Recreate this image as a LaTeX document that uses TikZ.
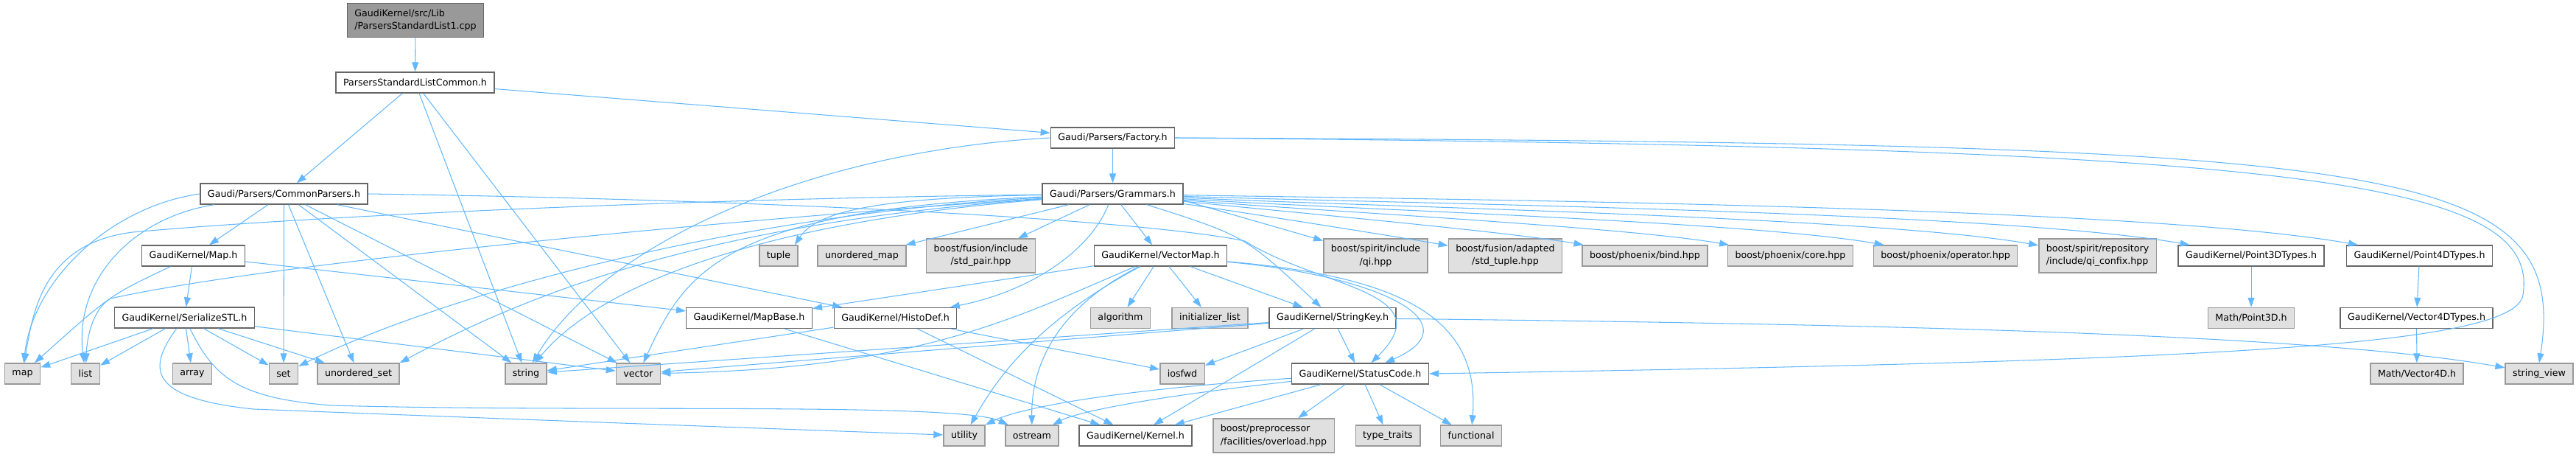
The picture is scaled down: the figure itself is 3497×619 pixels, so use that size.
\documentclass[tikz,border=0pt]{standalone}
\usepackage{fontspec}
\setmainfont{DejaVu Sans}
\usetikzlibrary{arrows.meta}

\definecolor{edgeblue}{HTML}{63B8FF}
\definecolor{hdrline}{HTML}{666666}
\definecolor{sysline}{HTML}{999999}
\definecolor{sysfill}{HTML}{E0E0E0}
\definecolor{srcfill}{HTML}{999999}

\begin{document}
\begin{tikzpicture}[x=0.02cm, y=-0.02cm,
    hdr/.style={rectangle, draw=hdrline, fill=white, line width=0.8pt, minimum height=0.56cm, inner xsep=0.2cm, inner ysep=0pt, font=\fontsize{7.2}{9.7}\selectfont},
    sys/.style={hdr, draw=sysline, fill=sysfill},
    srcfile/.style={hdr, fill=srcfill, align=left, minimum height=0.91cm},
    twoline/.style={minimum height=0.92cm},
    arrow/.style={draw=edgeblue, line width=0.6pt, -{Triangle[length=0.26cm, width=0.18cm]}}
]
    \useasboundingbox (0,0) rectangle (3497,619);

    % Place nodes
    \node [srcfile] (src) at (564,27.5) {GaudiKernel/src/Lib\\/ParsersStandardList1.cpp};
    \node [hdr] (pslc) at (563.5,112) {ParsersStandardListCommon.h};
    \node [hdr] (factory) at (1510.5,187) {Gaudi/Parsers/Factory.h};
    \node [hdr] (common) at (385.5,263) {Gaudi/Parsers/CommonParsers.h};
    \node [hdr] (grammars) at (1510.5,263) {Gaudi/Parsers/Grammars.h};

    \node [hdr] (mapH) at (262.5,347) {GaudiKernel/Map.h};
    \node [sys] (tuple) at (1057,347) {tuple};
    \node [sys] (umap) at (1170,347) {unordered\_map};
    \node [sys, twoline, align=center] (stdpair) at (1331.5,347) {boost/fusion/include\\/std\_pair.hpp};
    \node [hdr] (vmap) at (1575.5,347) {GaudiKernel/VectorMap.h};
    \node [sys, twoline, align=center] (qi) at (1867.5,347) {boost/spirit/include\\/qi.hpp};
    \node [sys, twoline, align=center] (stdtuple) at (2043.5,347) {boost/fusion/adapted\\/std\_tuple.hpp};
    \node [sys] (bind) at (2233,347) {boost/phoenix/bind.hpp};
    \node [sys] (core) at (2430.5,347) {boost/phoenix/core.hpp};
    \node [sys] (operator) at (2641,347) {boost/phoenix/operator.hpp};
    \node [sys, twoline, align=left] (confix) at (2847.5,347) {boost/spirit/repository\\/include/qi\_confix.hpp};
    \node [hdr] (p3d) at (3056,347) {GaudiKernel/Point3DTypes.h};
    \node [hdr] (p4d) at (3284.5,347) {GaudiKernel/Point4DTypes.h};

    \node [hdr] (serial) at (250.5,431) {GaudiKernel/SerializeSTL.h};
    \node [hdr] (mapbase) at (1017,431.5) {GaudiKernel/MapBase.h};
    \node [hdr] (histodef) at (1215.5,431.5) {GaudiKernel/HistoDef.h};
    \node [sys] (algorithm) at (1521,431.5) {algorithm};
    \node [sys] (initlist) at (1642.5,431.5) {initializer\_list};
    \node [hdr] (strkey) at (1809,431.5) {GaudiKernel/StringKey.h};
    \node [sys] (mpoint3d) at (3056,431.5) {Math/Point3D.h};
    \node [hdr] (v4d) at (3280.5,431.5) {GaudiKernel/Vector4DTypes.h};

    \node [sys] (stdmap) at (30.5,507) {map};
    \node [sys] (stdlist) at (116,507) {list};
    \node [sys] (stdarray) at (261,507) {array};
    \node [sys] (stdset) at (385,507) {set};
    \node [sys] (uset) at (486.5,507) {unordered\_set};
    \node [sys] (stdstring) at (714,507) {string};
    \node [sys] (stdvector) at (866.5,507) {vector};
    \node [sys] (iosfwd) at (1605,507) {iosfwd};
    \node [hdr] (status) at (1846.5,507) {GaudiKernel/StatusCode.h};
    \node [sys] (mvec4d) at (3281,507) {Math/Vector4D.h};
    \node [sys] (strview) at (3447,507) {string\_view};

    \node [sys] (utility) at (1309,591) {utility};
    \node [sys] (ostream) at (1401,591) {ostream};
    \node [hdr] (kernel) at (1541.5,591) {GaudiKernel/Kernel.h};
    \node [sys, twoline, align=left] (overload) at (1729,591) {boost/preprocessor\\/facilities/overload.hpp};
    \node [sys] (ttraits) at (1884,591) {type\_traits};
    \node [sys] (functional) at (1997,591) {functional};

    % Draw edges
    \draw [arrow] (src) -- (pslc);
    \draw [arrow] (pslc) -- (common);
    \draw [arrow] (pslc) -- (factory);
    \draw [arrow] (pslc) -- (stdstring);
    \draw [arrow] (pslc) -- (stdvector);

    \draw [arrow] (factory) -- (grammars);
    \draw [arrow] (factory.west) .. controls (1100,205) and (820,330) .. (stdstring);
    \draw [arrow] (factory.east) .. controls (3100,200) and (3450,240) .. (3425,400) .. controls (3415,470) and (3000,490) .. (status.east);
    \draw [arrow] (factory.east) .. controls (3250,195) and (3490,215) .. (strview.north);

    \draw [arrow] (common.west) .. controls (150,280) and (45,380) .. (stdmap);
    \draw [arrow] (common) .. controls (180,295) and (100,380) .. (stdlist);
    \draw [arrow] (common) -- (mapH);
    \draw [arrow] (common) -- (stdset);
    \draw [arrow] (common) -- (uset);
    \draw [arrow] (common) -- (stdstring);
    \draw [arrow] (common) -- (stdvector);
    \draw [arrow] (common) -- (histodef);
    \draw [arrow] (common.east) .. controls (1100,272) and (1560,300) .. (1690,327) .. controls (1790,390) and (1960,395) .. (status);

    \draw [arrow] (mapH) .. controls (150,400) .. (stdmap);
    \draw [arrow] (mapH) -- (serial);
    \draw [arrow] (mapH) -- (mapbase);

    \draw [arrow] (serial) -- (stdmap);
    \draw [arrow] (serial) -- (stdlist);
    \draw [arrow] (serial) -- (stdarray);
    \draw [arrow] (serial) -- (stdset);
    \draw [arrow] (serial) -- (uset);
    \draw [arrow] (serial) -- (stdvector);
    \draw [arrow] (serial) .. controls (200,500) and (200,540) .. (344,555) .. controls (600,565) and (1000,580) .. (utility);
    \draw [arrow] (serial) .. controls (290,510) and (320,540) .. (450,550) .. controls (800,560) and (1300,545) .. (ostream);

    \draw [arrow] (grammars) .. controls (900,270) and (400,295) .. (180,315) .. controls (60,330) and (45,420) .. (stdmap);
    \draw [arrow] (grammars) .. controls (1100,290) and (400,350) .. (150,405) .. controls (125,420) and (118,460) .. (stdlist);
    \draw [arrow] (grammars) .. controls (1000,290) and (600,400) .. (stdset);
    \draw [arrow] (grammars) .. controls (1000,300) and (750,380) .. (uset.north east);
    \draw [arrow] (grammars) .. controls (1050,300) and (820,380) .. (stdstring);
    \draw [arrow] (grammars) .. controls (980,285) and (930,370) .. (stdvector);
    \draw [arrow] (grammars) .. controls (1200,268) and (1110,285) .. ([xshift=-0.1cm]tuple.north east);
    \draw [arrow] (grammars) -- (umap);
    \draw [arrow] (grammars) -- (stdpair);
    \draw [arrow] (grammars) -- (vmap);
    \draw [arrow] (grammars) .. controls (1480,340) and (1400,395) .. (histodef);
    \draw [arrow] (grammars) .. controls (1690,320) .. (strkey);
    \draw [arrow] ([yshift=-0.18cm]grammars.east) -- (qi);
    \draw [arrow] (grammars) to [out=-8, in=170, looseness=0.5] (stdtuple);
    \draw [arrow] (grammars) to [out=-6, in=170, looseness=0.5] (bind);
    \draw [arrow] (grammars) to [out=-5, in=170, looseness=0.5] (core);
    \draw [arrow] (grammars) to [out=-4, in=170, looseness=0.5] (operator);
    \draw [arrow] (grammars) to [out=-3, in=170, looseness=0.5] (confix);
    \draw [arrow] (grammars) to [out=-2, in=170, looseness=0.5] (p3d);
    \draw [arrow] (grammars) to [out=-1, in=170, looseness=0.5] (p4d);

    \draw [arrow] (vmap) -- (mapbase);
    \draw [arrow] (vmap) .. controls (1380,430) and (1250,500) .. (stdvector);
    \draw [arrow] (vmap) .. controls (1400,440) and (1350,520) .. (utility);
    \draw [arrow] (vmap) .. controls (1430,420) and (1400,500) .. (ostream);
    \draw [arrow] (vmap) -- (algorithm);
    \draw [arrow] (vmap) -- (initlist);
    \draw [arrow] (vmap) -- (strkey);
    \draw [arrow] (vmap) .. controls (1880,375) and (2000,440) .. (status);
    \draw [arrow] (vmap) .. controls (1900,375) and (2010,430) .. (functional);

    \draw [arrow] (strkey) -- (stdstring);
    \draw [arrow] (strkey) -- (stdvector);
    \draw [arrow] (strkey) -- (iosfwd);
    \draw [arrow] (strkey) -- (kernel);
    \draw [arrow] (strkey) -- (status);
    \draw [arrow] (strkey) .. controls (2600,440) and (3150,455) .. (strview.170);

    \draw [arrow] (histodef) -- (stdstring);
    \draw [arrow] (histodef) -- (iosfwd);
    \draw [arrow] (histodef) -- (kernel);
    \draw [arrow] (mapbase) -- (kernel);

    \draw [arrow] (status) .. controls (1500,530) and (1380,555) .. (utility);
    \draw [arrow] (status) .. controls (1550,540) and (1460,560) .. (ostream);
    \draw [arrow] (status) -- (kernel);
    \draw [arrow] (status) -- (overload);
    \draw [arrow] (status) -- (ttraits);
    \draw [arrow] (status) -- (functional);

    \draw [arrow] (p3d) -- (mpoint3d);
    \draw [arrow] (p4d) -- (v4d);
    \draw [arrow] (v4d) -- (mvec4d);
\end{tikzpicture}
\end{document}
